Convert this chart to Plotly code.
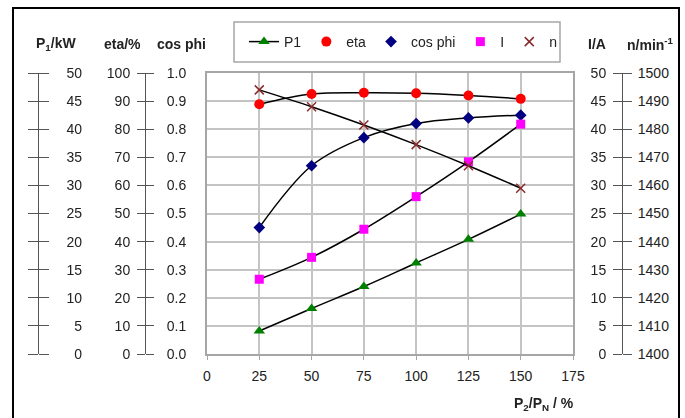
import plotly.graph_objects as go

W, H = 685, 418

load_pct = [25, 50, 75, 100, 125, 150]
p1_kw = [4.1, 8.1, 12.0, 16.2, 20.4, 24.9]
eta_pct = [88.9, 92.5, 93.0, 92.8, 92.0, 90.8]
cos_phi = [0.45, 0.67, 0.77, 0.82, 0.84, 0.85]
i_amp = [13.3, 17.2, 22.2, 28.0, 34.2, 40.9]
n_rpm = [1494, 1488, 1481.5, 1474.5, 1467, 1459]

x_ticks = [0, 25, 50, 75, 100, 125, 150, 175]

FONT = "Liberation Sans, Arial, sans-serif"
TXT = "#222222"
GRID = "#c4c4c4"
FRAME = "#a6a6a6"
AXL = "#555555"

def px(x):
    return x / W

def py(y):
    return (H - y) / H

fig = go.Figure()

line_style = dict(color="black", width=1.5, shape="spline", smoothing=1.0)

# cos phi smoothed line on the primary axis (keeps the main subplot populated)
fig.add_trace(go.Scatter(x=load_pct, y=cos_phi, yaxis="y", mode="lines", line=line_style,
                         showlegend=False, hoverinfo="skip"))

# P1 (lines + markers, in legend)
fig.add_trace(go.Scatter(x=load_pct, y=p1_kw, yaxis="y4", mode="lines+markers", name="P1",
                         line=line_style,
                         marker=dict(symbol="triangle-up", size=10, color="#008000"),
                         legendrank=1))
# transparent copies so the extra P1 tick/label axes are drawn
for ax in ["y5", "y6"]:
    fig.add_trace(go.Scatter(x=load_pct, y=p1_kw, yaxis=ax, mode="markers", opacity=0,
                             showlegend=False, hoverinfo="skip"))

series = [
    ("eta", eta_pct, "y2", dict(symbol="circle", size=10, color="#ff0000"), 2),
    ("cos phi", cos_phi, "y3", dict(symbol="diamond", size=9, color="#000080"), 3),
    ("I", i_amp, "y7", dict(symbol="square", size=9, color="#ff00ff"), 4),
    ("n", n_rpm, "y8", dict(symbol="x-thin-open", size=9, color="#8b2a2a",
                            line=dict(width=1.5, color="#8b2a2a")), 5),
]
for name, vals, ax, mk, rank in series:
    if name == "cos phi":
        continue
    fig.add_trace(go.Scatter(x=load_pct, y=vals, yaxis=ax, mode="lines", line=line_style,
                             showlegend=False, hoverinfo="skip"))
for name, vals, ax, mk, rank in series:
    fig.add_trace(go.Scatter(x=load_pct, y=vals, yaxis=ax, mode="markers", name=name,
                             marker=mk, legendrank=rank))

dom = [py(354), py(73)]
tf = dict(family=FONT, size=14, color=TXT)

common_free = dict(overlaying="y", anchor="free", domain=dom, showgrid=False,
                   zeroline=False, automargin=False, tickfont=tf)

fig.update_layout(
    width=W, height=H, autosize=False,
    margin=dict(l=0, r=0, t=0, b=0),
    paper_bgcolor="white", plot_bgcolor="white",
    font=dict(family=FONT, size=14, color=TXT),
    xaxis=dict(domain=[px(207), px(573)], range=[0, 175], tickvals=x_ticks,
               showgrid=True, gridcolor=GRID, gridwidth=1.5,
               showline=True, linecolor=FRAME, linewidth=2, mirror=True,
               ticks="outside", ticklen=4, tickcolor=FRAME, zeroline=False,
               tickfont=tf, ticklabelstandoff=4, automargin=False),
    yaxis=dict(domain=dom, range=[0, 1], dtick=0.1, showgrid=True, gridcolor=GRID,
               gridwidth=1.5, showline=True, linecolor=FRAME, linewidth=2, mirror=True,
               showticklabels=False, ticks="", zeroline=False, automargin=False),
    # eta axis
    yaxis2=dict(common_free, position=px(145), side="left", range=[0, 100], dtick=10,
                ticks="outside", ticklen=8, tickcolor=AXL, showline=True, linecolor=AXL,
                linewidth=1, ticklabelstandoff=4),
    # cos phi labels, right side of line at 145
    yaxis3=dict(common_free, position=px(145), side="right", range=[0, 1], dtick=0.1,
                tickformat=".1f", ticks="outside", ticklen=8, tickcolor=AXL,
                showline=False, ticklabelstandoff=10),
    # P1 axis line + left ticks
    yaxis4=dict(common_free, position=px(38), side="left", range=[0, 50], dtick=5,
                ticks="outside", ticklen=10, tickcolor=AXL, showline=True, linecolor=AXL,
                linewidth=1, showticklabels=False),
    # P1 right ticks
    yaxis5=dict(common_free, position=px(38), side="right", range=[0, 50], dtick=5,
                ticks="outside", ticklen=10, tickcolor=AXL, showline=False,
                showticklabels=False),
    # P1 labels (right aligned)
    yaxis6=dict(common_free, position=px(82), side="left", range=[0, 50], dtick=5,
                ticks="", showline=False),
    # I axis
    yaxis7=dict(common_free, position=px(622), side="left", range=[0, 50], dtick=5,
                ticks="outside", ticklen=9, tickcolor=AXL, showline=True, linecolor=AXL,
                linewidth=1, ticklabelstandoff=4),
    # n axis
    yaxis8=dict(common_free, position=px(622), side="right", range=[1400, 1500], dtick=10,
                ticks="outside", ticklen=9, tickcolor=AXL, showline=False,
                ticklabelstandoff=3),
    legend=dict(orientation="h", x=px(244), y=py(42), xanchor="left", yanchor="middle",
                bgcolor="rgba(0,0,0,0)", borderwidth=0,
                font=dict(family=FONT, size=14, color=TXT)),
    showlegend=True,
)

# legend box and outer frame
fig.add_shape(type="rect", xref="paper", yref="paper", x0=px(234), x1=px(560),
              y0=py(62), y1=py(22), line=dict(color=FRAME, width=1.5))
fig.add_shape(type="rect", xref="paper", yref="paper", x0=px(13), x1=px(679),
              y0=-0.1, y1=py(8), line=dict(color="black", width=2))

titles = [
    ("P<sub>1</sub>/kW", 56, 44),
    ("eta/%", 122, 44),
    ("cos phi", 181, 44),
    ("I/A", 597, 44),
    ("n/min<sup>-1</sup>", 650, 44),
]
for t, x, y in titles:
    fig.add_annotation(text="<b>" + t + "</b>", x=px(x), y=py(y), xref="paper", yref="paper",
                       showarrow=False, xanchor="center", yanchor="middle",
                       font=dict(family=FONT, size=14, color=TXT))

fig.add_annotation(text="<b>P<sub>2</sub>/P<sub>N</sub> / %</b>", x=px(576), y=py(404),
                   xref="paper", yref="paper", showarrow=False, xanchor="right",
                   yanchor="middle", font=dict(family=FONT, size=14, color=TXT))

fig.write_html("out.html", post_script="document.body.style.margin='0px';",
               config={"displayModeBar": False})
